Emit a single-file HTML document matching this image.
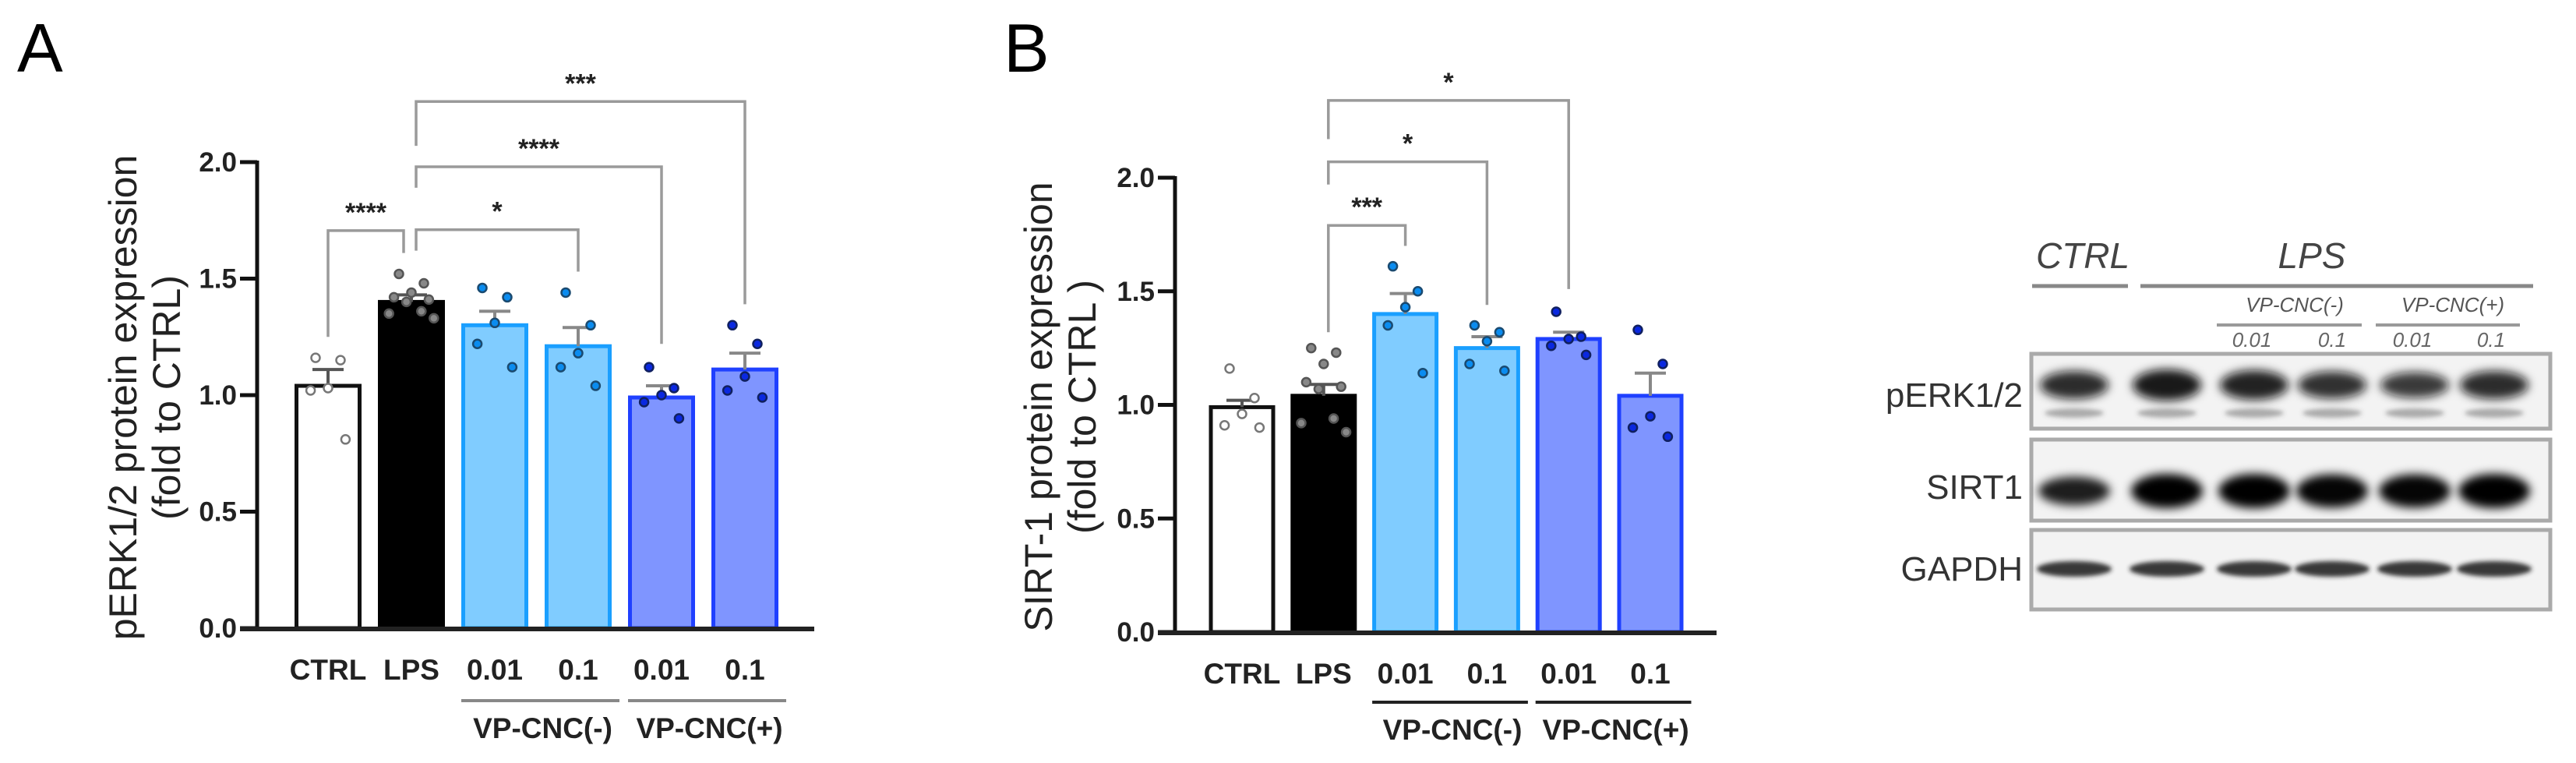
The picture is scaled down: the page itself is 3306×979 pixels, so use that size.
<!DOCTYPE html>
<html><head><meta charset="utf-8"><style>
html,body{margin:0;padding:0;background:#fff;}
svg{display:block;}
text{font-family:"Liberation Sans",Arial,sans-serif;}
</style></head><body>
<svg id="fig" width="3306" height="979" viewBox="0 0 3306 979" xmlns="http://www.w3.org/2000/svg">
<defs>
<filter id="blur6" x="-20%" y="-100%" width="140%" height="300%"><feGaussianBlur stdDeviation="6"/></filter>
<filter id="blur3" x="-20%" y="-100%" width="140%" height="300%"><feGaussianBlur stdDeviation="3"/></filter>
</defs>
<text x="22" y="92" font-size="88">A</text>
<text x="1288" y="92" font-size="88">B</text>
<g id="chartA"></g>
<g id="chartB"></g>
<g id="blot"></g>
</svg>
<script>
const categories = ["CTRL","LPS","0.01","0.1","0.01","0.1"];
const yTickLabels = ["0.0","0.5","1.0","1.5","2.0"];
const yTickValues = [0,0.5,1,1.5,2];
const groupLabels = ["VP-CNC(-)","VP-CNC(+)"];
const aMeans = [1.04,1.40,1.30,1.21,0.99,1.11];
const aErr = [0.07,0.03,0.06,0.08,0.05,0.07];
const aPoints = [[1.16,1.15,1.03,1.02,0.81],[1.52,1.48,1.44,1.42,1.41,1.40,1.36,1.35,1.33],[1.46,1.42,1.31,1.22,1.12],[1.44,1.30,1.18,1.12,1.04],[1.12,1.03,1.00,0.97,0.90],[1.30,1.22,1.08,1.02,0.99]];
const bMeans = [0.99,1.04,1.40,1.25,1.29,1.04];
const bErr = [0.03,0.05,0.09,0.05,0.03,0.10];
const bPoints = [[1.16,1.03,0.96,0.91,0.90],[1.25,1.23,1.18,1.10,1.08,1.07,0.94,0.92,0.88],[1.61,1.50,1.43,1.35,1.14],[1.35,1.32,1.28,1.18,1.15],[1.41,1.30,1.29,1.26,1.22],[1.33,1.18,0.95,0.90,0.86]];
const aBrackets = [[0,1,1.706,1.25,1.61,"****"],[1,3,1.71,1.62,1.53,"*"],[1,4,1.98,1.89,1.22,"****"],[1,5,2.26,2.07,1.39,"***"]];
const bBrackets = [[1,2,1.79,1.32,1.70,"***"],[1,3,2.07,1.97,1.44,"*"],[1,4,2.34,2.17,1.51,"*"]];

const NS="http://www.w3.org/2000/svg";
function mk(parent, tag, attrs){const e=document.createElementNS(NS,tag);for(const k in attrs)e.setAttribute(k,attrs[k]);parent.appendChild(e);return e;}
const fills=["#ffffff","#000000","#80ccff","#80ccff","#7f95ff","#7f95ff"];
const strokes=["#111111","#000000","#1a9fff","#1a9fff","#1f40ff","#1f40ff"];
const ptFill=["#ffffff","#888888","#0a8cf0","#0a8cf0","#0a28e0","#0a28e0"];
const ptStroke=["#777777","#555555","#1a4a70","#1a4a70","#102060","#102060"];
const jit=[-10,10,0,-14,14,-4,8,-18,18];

function drawChart(g, cfg){
  const y = v => cfg.y0 - v*cfg.unit;
  const x = i => cfg.x0 + i*cfg.step;
  const bw = cfg.bw;
  // y-axis
  let e=mk(g,"line",{x1:cfg.axisX,y1:y(2)-2,x2:cfg.axisX,y2:y(0)+3,stroke:"#111","stroke-width":5});
  
  
  yTickValues.forEach((v,i)=>{
    let t=mk(g,"line",{x1:cfg.axisX-22,y1:y(v),x2:cfg.axisX,y2:y(v),stroke:"#111","stroke-width":5});
    
    
    let l=mk(g,"text",{x:cfg.axisX-26,y:y(v)+12,"font-size":35,"font-weight":"bold","text-anchor":"end",fill:"#222"});
    l.textContent=yTickLabels[i];
    
    
  });
  // bars
  categories.forEach((c,i)=>{
    const m=cfg.means[i];
    let b=mk(g,"rect",{x:x(i)-bw/2+2.5,y:y(m),width:bw-5,height:y(0)-y(m),fill:fills[i],stroke:strokes[i],"stroke-width":5});
    
    
    const ec = i<2 ? "#555" : "#888";
    let eb=mk(g,"path",{d:`M${x(i)},${y(m)} V${y(m+cfg.err[i])} M${x(i)-20},${y(m+cfg.err[i])} H${x(i)+20}`,stroke:ec,"stroke-width":4,fill:"none"});
    
    
    cfg.points[i].forEach((p,j)=>{
      let d=mk(g,"circle",{cx:x(i)+jit[j%jit.length]*1.6,cy:y(p),r:5.5,fill:ptFill[i],stroke:ptStroke[i],"stroke-width":2.5});
      
      
    });
    let xl=mk(g,"text",{x:x(i),y:cfg.labY,"font-size":37,"font-weight":"bold","text-anchor":"middle",fill:"#222"});
    xl.textContent=c;
    
    
  });
  // baseline
  e=mk(g,"line",{x1:cfg.axisX-22,y1:y(0)+1,x2:cfg.baseEnd,y2:y(0)+1,stroke:"#222","stroke-width":6});
  
  
  // groups
  [[2,3],[4,5]].forEach((pr,k)=>{
    let gl=mk(g,"line",{x1:x(pr[0])-bw/2,y1:cfg.grpY,x2:x(pr[1])+bw/2+10,y2:cfg.grpY,stroke:cfg.grpCol,"stroke-width":4});
    
    
    let gt=mk(g,"text",{x:(x(pr[0])+x(pr[1]))/2+8,y:cfg.grpY+48,"font-size":37,"font-weight":"bold","text-anchor":"middle",fill:"#222"});
    gt.textContent=groupLabels[k];
    
    
  });
  // brackets
  cfg.brackets.forEach(br=>{
    const xa=x(br[0])+(br[0]===0?0:(br[1]===1?-10:6)), xb=x(br[1])+(br[0]===0?-10:0);
    let p=mk(g,"path",{d:`M${xa},${y(br[3])} V${y(br[2])} H${xb} V${y(br[4])}`,stroke:"#9a9a9a","stroke-width":3.5,fill:"none"});
    
    
    let s=mk(g,"text",{x:(xa+xb)/2,y:y(br[2])-12,"font-size":34,"font-weight":"bold","text-anchor":"middle",fill:"#222"});
    s.textContent=br[5];
    
    
  });
  // y title
  let yt=mk(g,"text",{transform:`translate(${cfg.titleX},${cfg.titleY}) rotate(-90)`,"font-size":50,"text-anchor":"middle",fill:"#222"});
  
  
  let t1=mk(yt,"tspan",{x:0,dy:0}); t1.textContent=cfg.title1;
  let t2=mk(yt,"tspan",{x:0,dy:56}); t2.textContent=cfg.title2;
}

drawChart(document.getElementById("chartA"),{y0:806,unit:299,x0:421,step:107,bw:86,axisX:330,baseEnd:1045,labY:872,grpY:899,grpCol:"#888",
  means:aMeans,err:aErr,points:aPoints,brackets:aBrackets,titleX:175,titleY:510,title1:"pERK1/2 protein expression",title2:"(fold to CTRL)"});
drawChart(document.getElementById("chartB"),{y0:811,unit:291.5,x0:1594,step:104.8,bw:85,axisX:1508,baseEnd:2203,labY:877,grpY:901,grpCol:"#222",
  means:bMeans,err:bErr,points:bPoints,brackets:bBrackets,titleX:1350,titleY:522,title1:"SIRT-1 protein expression",title2:"(fold to CTRL )"});

// Western blot
const blot=document.getElementById("blot");
const lanes=[2662,2781,2893,2993,3099,3201];
const perkI=[0.8,1,0.9,0.75,0.65,0.8];
const sirtI=[0.7,1,1,0.95,0.95,1];
function txt(p,attrs,s,name){const t=mk(p,"text",attrs);t.textContent=s;return t;}
const narrow='"Liberation Sans Narrow","Liberation Sans",sans-serif';
txt(blot,{x:2673,y:344,"font-size":46,"font-style":"italic","text-anchor":"middle",fill:"#444","font-family":narrow},"CTRL","ctrl-label");
txt(blot,{x:2967,y:344,"font-size":46,"font-style":"italic","text-anchor":"middle",fill:"#444","font-family":narrow},"LPS","lps-label");
mk(blot,"line",{x1:2608,y1:367,x2:2731,y2:367,stroke:"#888","stroke-width":5});
mk(blot,"line",{x1:2747,y1:367,x2:3251,y2:367,stroke:"#888","stroke-width":5});
txt(blot,{x:2945,y:400,"font-size":26,"font-style":"italic","text-anchor":"middle",fill:"#555","font-family":narrow},"VP-CNC(-)","vp-cnc-minus-label");
txt(blot,{x:3148,y:400,"font-size":26,"font-style":"italic","text-anchor":"middle",fill:"#555","font-family":narrow},"VP-CNC(+)","vp-cnc-plus-label");
mk(blot,"line",{x1:2845,y1:417,x2:3031,y2:417,stroke:"#999","stroke-width":4});
mk(blot,"line",{x1:3049,y1:417,x2:3234,y2:417,stroke:"#999","stroke-width":4});
[["0.01",2890],["0.1",2993],["0.01",3096],["0.1",3197]].forEach(d=>txt(blot,{x:d[1],y:445,"font-size":26,"font-style":"italic","text-anchor":"middle",fill:"#666","font-family":narrow},d[0],"dose-label"));
[[454,550,"pERK1/2",507],[564,668,"SIRT1",625],[680,782,"GAPDH",730]].forEach(b=>{
  let r=mk(blot,"rect",{x:2607,y:b[0],width:666,height:b[1]-b[0],fill:"#f3f3f3",stroke:"#aaa","stroke-width":5});
  
  
  txt(blot,{x:2596,y:b[3]+15,"font-size":44,"text-anchor":"end",fill:"#333","font-family":narrow},b[2],"blot-row-label");
});
lanes.forEach((lx,i)=>{
  let e=mk(blot,"ellipse",{cx:lx,cy:494,rx:44,ry:10+10*perkI[i],fill:"#111","fill-opacity":0.55+0.4*perkI[i],filter:"url(#blur6)"});
  
  
  e=mk(blot,"ellipse",{cx:lx,cy:530,rx:38,ry:6,fill:"#555","fill-opacity":0.45,filter:"url(#blur3)"});
  
  
  e=mk(blot,"ellipse",{cx:lx,cy:630,rx:46,ry:10+12*sirtI[i],fill:"#000","fill-opacity":0.6+0.4*sirtI[i],filter:"url(#blur6)"});
  
  
  e=mk(blot,"ellipse",{cx:lx,cy:730,rx:48,ry:10,fill:"#222","fill-opacity":0.9,filter:"url(#blur3)"});
  
  
});
</script>
</body></html>
